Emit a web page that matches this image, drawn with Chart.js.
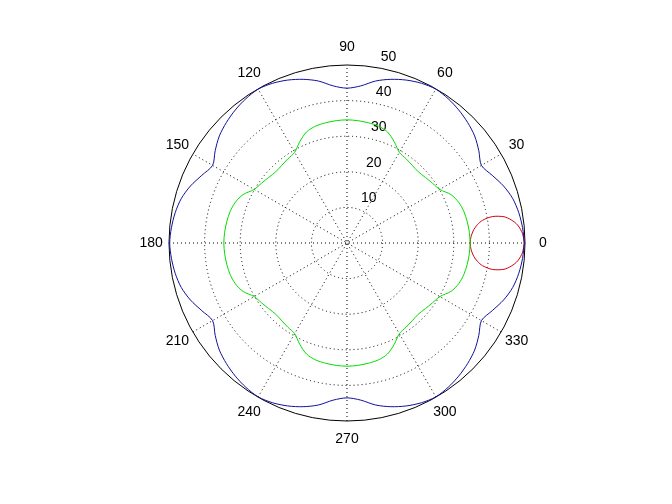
<!DOCTYPE html>
<html>
<head>
<meta charset="utf-8">
<script src="https://cdn.jsdelivr.net/npm/chart.js@4/dist/chart.umd.min.js"></script>
<style>
  html, body { margin: 0; padding: 0; background: #fff; }
  #wrap { width: 672px; height: 504px; }
</style>
</head>
<body>
<div id="wrap"><canvas id="polar"></canvas></div>
<script>
// angles in degrees, every 5 deg
const angles = [0,5,10,15,20,25,30,35,40,45,50,55,60,65,70,75,80,85,90,
  95,100,105,110,115,120,125,130,135,140,145,150,155,160,165,170,175,180,
  185,190,195,200,205,210,215,220,225,230,235,240,245,250,255,260,265,270,
  275,280,285,290,295,300,305,310,315,320,325,330,335,340,345,350,355,360];

const blueR = [49.8,49.5,49.0,48.2,46.8,45.0,43.6,45.2,46.8,47.9,48.8,49.5,49.9,49.5,48.7,47.6,46.2,44.3,43.5,
  44.3,46.2,47.6,48.7,49.5,49.9,49.5,48.8,47.9,46.8,45.2,43.6,45.0,46.8,48.2,49.0,49.5,49.8,
  49.5,49.0,48.2,46.8,45.0,43.6,45.2,46.8,47.9,48.8,49.5,49.9,49.5,48.7,47.6,46.2,44.3,43.5,
  44.3,46.2,47.6,48.7,49.5,49.9,49.5,48.8,47.9,46.8,45.2,43.6,45.0,46.8,48.2,49.0,49.5,49.8];

const greenR = [34.6,34.5,34.3,34.0,33.4,32.2,30.1,29.3,28.7,28.3,28.5,28.9,29.4,31.4,33.2,34.0,34.3,34.5,34.6,
  34.5,34.3,34.0,33.2,31.4,29.4,28.9,28.5,28.3,28.7,29.3,30.1,32.2,33.4,34.0,34.3,34.5,34.6,
  34.5,34.3,34.0,33.4,32.2,30.1,29.3,28.7,28.3,28.5,28.9,29.4,31.4,33.2,34.0,34.3,34.5,34.6,
  34.5,34.3,34.0,33.2,31.4,29.4,28.9,28.5,28.3,28.7,29.3,30.1,32.2,33.4,34.0,34.3,34.5,34.6];

// small red loop near 0 deg
const redAngles = [0,3,6,8,9.5,10.3,9.5,8,6,3,0,-3,-6,-8,-9.5,-10.3,-9.5,-8,-6,-3,0];
const redR = [49.8,49.4,48.2,46.6,44.7,41.5,38.6,37.0,35.8,34.9,34.6,34.9,35.8,37.0,38.6,41.5,44.7,46.6,48.2,49.4,49.8];

const rTicks = [10,20,30,40,50];
const spokeAngles = [0,30,60,90,120,150,180,210,240,270,300,330];

const toXY = (degs, rs) => degs.map((d, i) => ({
  x: rs[i] * Math.cos(d * Math.PI / 180),
  y: rs[i] * Math.sin(d * Math.PI / 180),
}));

const rMax = 50;
const FONT = '14px "Liberation Sans", Arial, sans-serif';

const polarGrid = {
  id: 'polarGrid',
  beforeDatasetsDraw(chart) {
    const ctx = chart.ctx;
    const xs = chart.scales.x, ys = chart.scales.y;
    const cx = xs.getPixelForValue(0), cy = ys.getPixelForValue(0);
    const rp = r => xs.getPixelForValue(r) - cx;
    ctx.save();
    ctx.strokeStyle = '#000';
    ctx.lineWidth = 1;
    // dotted rings
    ctx.setLineDash([1, 3]);
    rTicks.slice(0, -1).forEach(r => {
      ctx.beginPath();
      ctx.arc(cx, cy, rp(r), 0, Math.PI * 2);
      ctx.stroke();
    });
    // spokes
    spokeAngles.slice(0, 6).forEach(a => {
      const t = a * Math.PI / 180;
      ctx.beginPath();
      ctx.moveTo(cx - rp(rMax) * Math.cos(t), cy + rp(rMax) * Math.sin(t));
      ctx.lineTo(cx + rp(rMax) * Math.cos(t), cy - rp(rMax) * Math.sin(t));
      ctx.stroke();
    });
    // outer ring
    ctx.setLineDash([]);
    ctx.beginPath();
    ctx.arc(cx, cy, rp(rMax), 0, Math.PI * 2);
    ctx.stroke();

    ctx.fillStyle = '#000';
    ctx.font = FONT;
    // angle labels
    ctx.textAlign = 'center';
    ctx.textBaseline = 'middle';
    spokeAngles.forEach(a => {
      const t = a * Math.PI / 180;
      ctx.fillText(String(a), cx + 1.1 * rp(rMax) * Math.cos(t), cy - 1.1 * rp(rMax) * Math.sin(t));
    });
    // radial labels along 82 deg
    ctx.textAlign = 'left';
    ctx.textBaseline = 'bottom';
    const c82 = Math.cos(82 * Math.PI / 180), s82 = Math.sin(82 * Math.PI / 180);
    rTicks.forEach(r => {
      const rr = rp(r + 0.5);
      ctx.fillText('  ' + r, cx + rr * c82 + 1, cy - rr * s82 - 1);
    });
    ctx.restore();
  }
};

const line = (data, color) => ({
  data,
  showLine: true,
  borderColor: color,
  borderWidth: 1,
  pointRadius: 0,
  tension: 0.3,
  fill: false,
});

new Chart(document.getElementById('polar'), {
  type: 'scatter',
  data: {
    datasets: [
      line(toXY(angles, blueR), '#10109a'),
      line(toXY(angles, greenR), '#00dd00'),
      line(toXY(redAngles, redR), '#d00010'),
    ]
  },
  options: {
    responsive: true,
    maintainAspectRatio: false,
    animation: false,
    layout: { padding: 0 },
    plugins: {
      legend: { display: false },
      tooltip: { enabled: false },
    },
    scales: {
      x: { type: 'linear', display: false, min: -97.47, max: 91.29 },
      y: { type: 'linear', display: false, min: -73.31, max: 68.26 },
    }
  },
  plugins: [polarGrid],
});
</script>
</body>
</html>
